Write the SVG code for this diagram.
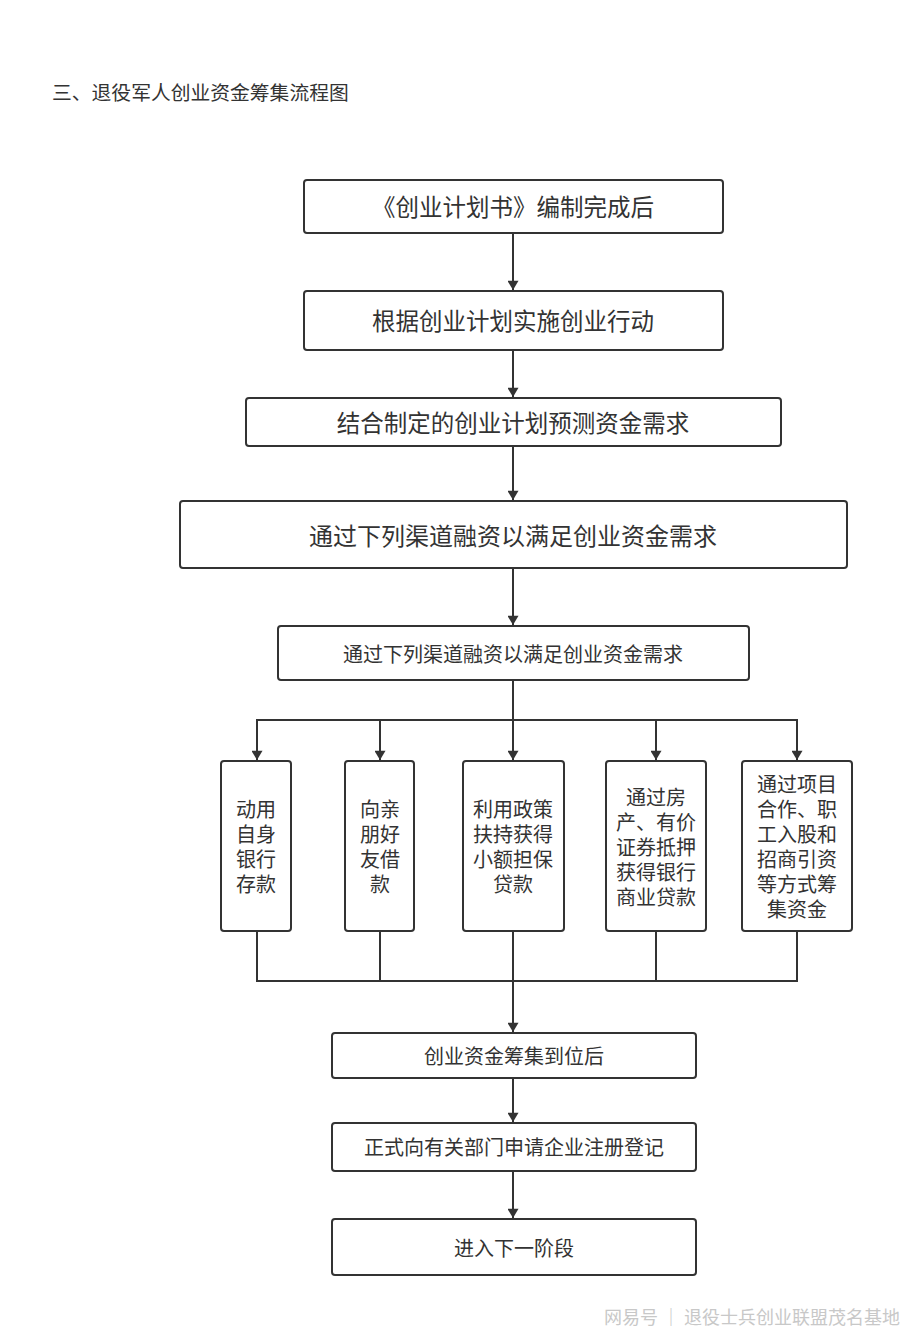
<svg xmlns="http://www.w3.org/2000/svg" width="914" height="1337" viewBox="0 0 914 1337">
<style>
text{font-family:"Noto Sans CJK SC","Noto Sans",sans-serif;fill:#333;text-anchor:middle;dominant-baseline:central}
.box{fill:#fff;stroke:#333;stroke-width:2}
.lg{font-size:23.5px}
.md{font-size:20px}
.ln{fill:none;stroke:#333;stroke-width:2}
</style>
<defs>
<marker id="ah" viewBox="0 0 10 12" refX="10" refY="6" markerWidth="12" markerHeight="11" markerUnits="userSpaceOnUse" orient="auto">
<path d="M0,0 L10,6 L0,12 Z" fill="#333"/>
</marker>
</defs>
<rect width="914" height="1337" fill="#fff"/>
<text x="52" y="91" style="text-anchor:start;font-size:19.8px">三、退役军人创业资金筹集流程图</text>

<g id="connectors">
<line class="ln" x1="513" y1="233" x2="513" y2="290" marker-end="url(#ah)"/>
<line class="ln" x1="513" y1="350" x2="513" y2="397" marker-end="url(#ah)"/>
<line class="ln" x1="513" y1="446" x2="513" y2="500" marker-end="url(#ah)"/>
<line class="ln" x1="513" y1="568" x2="513" y2="625" marker-end="url(#ah)"/>
<line class="ln" x1="513" y1="680" x2="513" y2="720"/>
<line class="ln" x1="256" y1="720" x2="798" y2="720"/>
<line class="ln" x1="257" y1="720" x2="257" y2="760" marker-end="url(#ah)"/>
<line class="ln" x1="380" y1="720" x2="380" y2="760" marker-end="url(#ah)"/>
<line class="ln" x1="513" y1="720" x2="513" y2="760" marker-end="url(#ah)"/>
<line class="ln" x1="656" y1="720" x2="656" y2="760" marker-end="url(#ah)"/>
<line class="ln" x1="797" y1="720" x2="797" y2="760" marker-end="url(#ah)"/>
<polyline class="ln" points="257,931 257,981 797,981 797,931"/>
<line class="ln" x1="380" y1="931" x2="380" y2="981"/>
<line class="ln" x1="656" y1="931" x2="656" y2="981"/>
<line class="ln" x1="513" y1="931" x2="513" y2="1032" marker-end="url(#ah)"/>
<line class="ln" x1="513" y1="1078" x2="513" y2="1122" marker-end="url(#ah)"/>
<line class="ln" x1="513" y1="1171" x2="513" y2="1218" marker-end="url(#ah)"/>
</g>

<g id="n1"><rect class="box" x="304" y="180" width="419" height="53" rx="3"/><text class="lg" x="513" y="206">《创业计划书》编制完成后</text></g>
<g id="n2"><rect class="box" x="304" y="291" width="419" height="59" rx="3"/><text class="lg" x="513" y="320">根据创业计划实施创业行动</text></g>
<g id="n3"><rect class="box" x="246" y="398" width="535" height="48" rx="3"/><text class="lg" x="513" y="422">结合制定的创业计划预测资金需求</text></g>
<g id="n4"><rect class="box" x="180" y="501" width="667" height="67" rx="3"/><text style="font-size:24px" x="513" y="534">通过下列渠道融资以满足创业资金需求</text></g>
<g id="n5"><rect class="box" x="278" y="626" width="471" height="54" rx="3"/><text class="md" x="513" y="653">通过下列渠道融资以满足创业资金需求</text></g>

<g id="b1"><rect class="box" x="221" y="761" width="70" height="170" rx="3"/>
<text class="md" x="256" y="808"><tspan x="256" y="808">动用</tspan><tspan x="256" y="833">自身</tspan><tspan x="256" y="858">银行</tspan><tspan x="256" y="883">存款</tspan></text></g>
<g id="b2"><rect class="box" x="345" y="761" width="69" height="170" rx="3"/>
<text class="md" x="380" y="808"><tspan x="380" y="808">向亲</tspan><tspan x="380" y="833">朋好</tspan><tspan x="380" y="858">友借</tspan><tspan x="380" y="883">款</tspan></text></g>
<g id="b3"><rect class="box" x="463" y="761" width="101" height="170" rx="3"/>
<text class="md" x="513" y="808"><tspan x="513" y="808">利用政策</tspan><tspan x="513" y="833">扶持获得</tspan><tspan x="513" y="858">小额担保</tspan><tspan x="513" y="883">贷款</tspan></text></g>
<g id="b4"><rect class="box" x="606" y="761" width="100" height="170" rx="3"/>
<text class="md" x="656" y="796"><tspan x="656" y="796">通过房</tspan><tspan x="656" y="821">产、有价</tspan><tspan x="656" y="846">证券抵押</tspan><tspan x="656" y="871">获得银行</tspan><tspan x="656" y="896">商业贷款</tspan></text></g>
<g id="b5"><rect class="box" x="742" y="761" width="110" height="170" rx="3"/>
<text class="md" x="797" y="783"><tspan x="797" y="783">通过项目</tspan><tspan x="797" y="808">合作、职</tspan><tspan x="797" y="833">工入股和</tspan><tspan x="797" y="858">招商引资</tspan><tspan x="797" y="883">等方式筹</tspan><tspan x="797" y="908">集资金</tspan></text></g>

<g id="n6"><rect class="box" x="332" y="1033" width="364" height="45" rx="3"/><text class="md" x="514" y="1055">创业资金筹集到位后</text></g>
<g id="n7"><rect class="box" x="332" y="1123" width="364" height="48" rx="3"/><text class="md" x="514" y="1146">正式向有关部门申请企业注册登记</text></g>
<g id="n8"><rect class="box" x="332" y="1219" width="364" height="56" rx="3"/><text class="md" x="514" y="1247">进入下一阶段</text></g>

<text x="900" y="1316" style="text-anchor:end;font-size:18px;fill:#c8c8c8">网易号 ｜ 退役士兵创业联盟茂名基地</text>
</svg>
